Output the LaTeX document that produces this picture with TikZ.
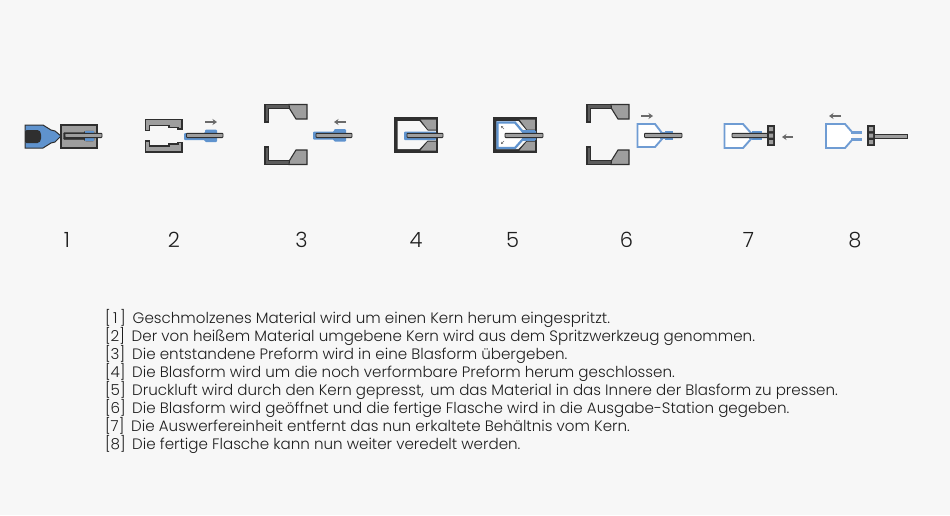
\documentclass[tikz,border=0pt]{standalone}
\usepackage{fontspec}
\setmainfont{Poppins Light}
\definecolor{bgc}{HTML}{F7F7F7}
\definecolor{steelc}{HTML}{9E9E9E}
\definecolor{darkc}{HTML}{2F2F2F}
\definecolor{wallc}{HTML}{5C5C5C}
\definecolor{bluec}{HTML}{5F93CE}
\definecolor{bottlec}{HTML}{6F9CD3}
\definecolor{arrowc}{HTML}{6A6A6A}
\definecolor{textc}{HTML}{1E1E1E}
\usetikzlibrary{arrows.meta}
\tikzset{
 steel/.style={fill=steelc,draw=darkc,line width=1.1pt,line join=miter},
 wall/.style={fill=wallc,draw=darkc,line width=1.1pt,line join=miter},
 blueblob/.style={fill=bluec,draw=none},
 bottle/.style={fill=white,draw=bottlec,line width=1.9pt,line join=miter},
 coreb/.style={fill=steelc,draw=darkc,line width=.9pt},
 moveb/.style={-{Stealth[length=4.5pt,width=6pt]},draw=arrowc,line width=1.3pt},
 smallmove/.style={-{Stealth[length=2pt,width=2.5pt]},draw=arrowc,line width=.6pt},
 numlabel/.style={font=\fontsize{21}{24}\selectfont,text=textc,inner sep=0pt},
 desc/.style={font=\fontsize{15.1}{18}\selectfont,text=textc,inner sep=0pt,anchor=base west},
}
\newcommand{\halfA}[1]{%
 \begin{scope}[xshift=#1]
  \draw[wall] (0,122)--(0,104.5)--(25,104.5)--(25,108.5)--(3.5,108.5)--(3.5,122)--cycle;
  \draw[wall] (0,147)--(0,164.5)--(25,164.5)--(25,160.5)--(3.5,160.5)--(3.5,147)--cycle;
  \draw[steel] (24,104.5)--(42,104.5)--(42,119)--(31,119)--(24.5,108.5)--cycle;
  \draw[steel] (24,164.5)--(42,164.5)--(42,150)--(31,150)--(24.5,160.5)--cycle;
 \end{scope}}
\newcommand{\closedmould}[1]{%
 \begin{scope}[xshift=#1]
  \fill[darkc] (0,117.5) rectangle (42.5,152);
  \fill[bgc] (3,121)--(25,121)--(33,130.5)--(42,130.5)--(42,140.5)--(33,140.5)--(25,149)--(3,149)--cycle;
  \fill[steelc] (26,119.5)--(41.5,119.5)--(41.5,129.5)--(33.5,129.5)--cycle;
  \fill[steelc] (26,150.5)--(41.5,150.5)--(41.5,141.5)--(33.5,141.5)--cycle;
  \draw[darkc,line width=1.3pt] (0,117.5) rectangle (42.5,152);
 \end{scope}}
\newcommand{\corerod}[2]{\draw[coreb,rounded corners=.8pt] (#1,133.3) rectangle (#2,137.6);}
\newcommand{\plate}[1]{%
 \fill[darkc] (#1,125) rectangle ++(8,21);
 \fill[steelc] (#1+2,127) rectangle ++(4,4) (#1+2,133.5) rectangle ++(4,4) (#1+2,140) rectangle ++(4,4);}
\begin{document}
\begin{tikzpicture}[x=1pt,y=-1pt]
\useasboundingbox (0,0) rectangle (950,515);
\fill[bgc] (0,0) rectangle (950,515);
% 1
\draw[blueblob,draw=darkc,line width=1pt] (25,125)--(43,125)--(51,130)--(55,131)--(61,136)--(55,142)--(51,143)--(43,148)--(25,148)--cycle;
\fill[darkc,rounded corners=1.5pt] (25,130)--(39,130)--(41,133)--(41,140)--(39,143)--(25,143)--cycle;
\draw[steel] (61,125) rectangle (97,148);
\draw[fill=darkc,draw=darkc,rounded corners=1pt] (63.5,132.5)--(85,132.5)--(85,131)--(94,131)--(94,141)--(85,141)--(85,139.5)--(63.5,139.5)--cycle;
\fill[bluec] (85,131)--(94,131)--(94,141)--(85,141)--cycle;
\corerod{65}{102}
% 2
\draw[steel,line width=1.4pt] (145.5,119.5)--(182,119.5)--(182,129)--(178,129)--(178,127.5)--(169,127.5)--(169,125.5)--(149.5,125.5)--(149.5,130.5)--(145.5,130.5)--cycle;
\draw[steel,line width=1.4pt] (145.5,152)--(182,152)--(182,142.5)--(178,142.5)--(178,144)--(169,144)--(169,146)--(149.5,146)--(149.5,141)--(145.5,141)--cycle;
\fill[bluec,rounded corners=1pt] (184,133)--(205,133)--(205,129.5)--(217,129.5)--(217,142)--(205,142)--(205,140)--(184,140)--cycle;
\corerod{186.5}{223}
\draw[moveb] (205,122)--(217,122);
% 3
\halfA{265}
\fill[bluec,rounded corners=1pt] (313,131.5)--(334,131.5)--(334,129)--(346,129)--(346,141.5)--(334,141.5)--(334,139.5)--(313,139.5)--cycle;
\corerod{316}{352}
\draw[moveb] (346,122)--(334,122);
% 4
\closedmould{394.5}
\fill[bluec,rounded corners=1pt] (404,131.5)--(436,131.5)--(436,140)--(404,140)--cycle;
\corerod{407}{443}
% 5
\closedmould{493.5}
\draw[fill=white,draw=bluec,line width=2.2pt,line join=miter] (497.5,122.5)--(515,122.5)--(523,132)--(535,132)--(535,139)--(523,139)--(515,148)--(497.5,148)--cycle;
\fill[bluec] (523,129.5)--(535,129.5)--(535,140.5)--(523,140.5)--cycle;
\corerod{505}{543}
\draw[smallmove] (504,129)--(501,126);
\draw[smallmove] (504,141)--(501,144);
% 6
\halfA{587}
\draw[bottle] (637.5,124)--(655,124)--(662,133)--(662,139)--(655,147)--(637.5,147)--cycle;
\fill[bluec] (665,130.5)--(673,130.5)--(673,140)--(665,140)--cycle;
\fill[bottlec] (660,132)--(666,132)--(666,139)--(660,139)--cycle;
\corerod{644.5}{682}
\draw[moveb] (641,116)--(653,116);
% 7
\draw[bottle] (724.5,124)--(743,124)--(751,133)--(751,139)--(743,148)--(724.5,148)--cycle;
\fill[bluec] (752,131)--(762,131)--(762,140)--(752,140)--cycle;
\fill[bottlec] (749,132.5)--(753,132.5)--(753,139)--(749,139)--cycle;
\corerod{732}{768}
\plate{767}
\draw[moveb] (793,137)--(782,137);
% 8
\draw[fill=white,draw=bottlec,line width=1.9pt,line join=miter] (852,132)--(845,124)--(826,124)--(826,148)--(845,148)--(852,140);
\draw[bottlec,line width=3pt] (851,132.5)--(862,132.5);
\draw[bottlec,line width=3pt] (851,139.5)--(862,139.5);
\plate{867}
\draw[coreb] (874,134) rectangle (907,138);
\draw[moveb] (841,116)--(829,116);
% numbers
\node[numlabel] (n1) at (67,240) {1};
\node[numlabel] (n2) at (174,240) {2};
\node[numlabel] (n3) at (301.5,240) {3};
\node[numlabel] (n4) at (416,240) {4};
\node[numlabel] (n5) at (512.5,240) {5};
\node[numlabel] (n6) at (626.5,240) {6};
\node[numlabel] (n7) at (748.5,240) {7};
\node[numlabel] (n8) at (855,240) {8};
% descriptions
\node[desc] (t1) at (105,323) {[\,1\,]};
\node[desc] (d1) at (132.5,323) {Geschmolzenes Material wird um einen Kern herum eingespritzt.};
\node[desc] (t2) at (105,341) {[2]};
\node[desc] (d2) at (131.5,341) {Der von heißem Material umgebene Kern wird aus dem Spritzwerkzeug genommen.};
\node[desc] (t3) at (105,359) {[3]};
\node[desc] (d3) at (132,359) {Die entstandene Preform wird in eine Blasform übergeben.};
\node[desc] (t4) at (105,377) {[4]};
\node[desc] (d4) at (132,377) {Die Blasform wird um die noch verformbare Preform herum geschlossen.};
\node[desc] (t5) at (105,395) {[5]};
\node[desc] (d5) at (132,395) {Druckluft wird durch den Kern gepresst,\hspace{2pt} um das Material in das Innere der Blasform zu pressen.};
\node[desc] (t6) at (105,413) {[6]};
\node[desc] (d6) at (132,413) {Die Blasform wird geöffnet und die fertige Flasche wird in die Ausgabe-Station gegeben.};
\node[desc] (t7) at (105,431) {[7]};
\node[desc] (d7) at (131,431) {Die Auswerfereinheit entfernt das nun erkaltete Behältnis vom Kern.};
\node[desc] (t8) at (105,449) {[8]};
\node[desc] (d8) at (132,449) {Die fertige Flasche kann nun weiter veredelt werden.};
\end{tikzpicture}
\end{document}
